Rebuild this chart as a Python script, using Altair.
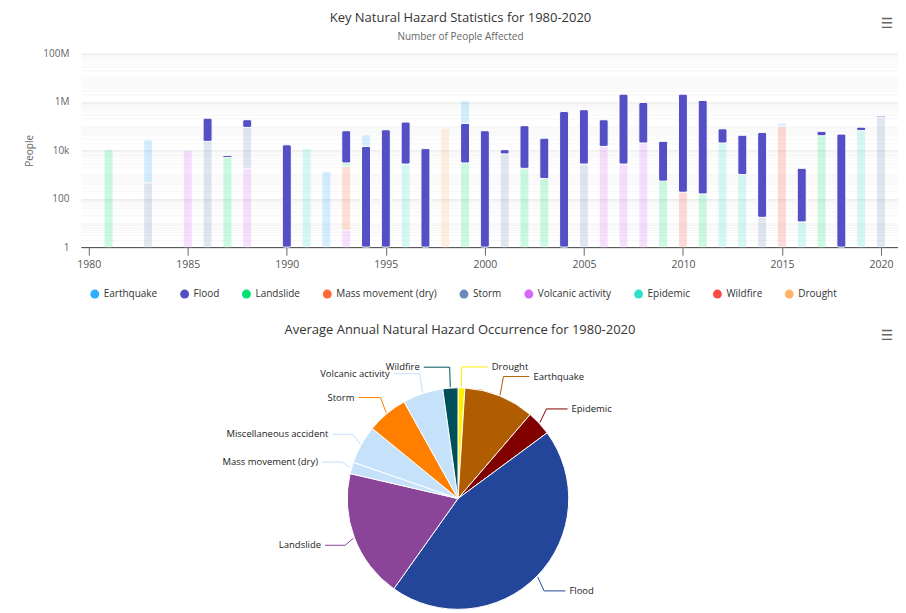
import altair as alt
import pandas as pd

hazards = ["Earthquake", "Flood", "Landslide", "Mass movement (dry)", "Storm",
           "Volcanic activity", "Epidemic", "Wildfire", "Drought"]
hazard_colors = ["#2caffe", "#544fc5", "#00e272", "#fe6a35", "#6b8abc",
                 "#d568fb", "#2ee0ca", "#fa4b42", "#feb56a"]

earthquake = {1983: 27500, 1992: 1360, 1994: 30000, 1999: 990000, 2015: 36000}
flood = {1986: 190000, 1987: 1100, 1988: 96000, 1990: 17000, 1993: 62000, 1994: 14500,
         1995: 71000, 1996: 145000, 1997: 11800, 1999: 127000, 2000: 65000, 2001: 3600,
         2002: 103000, 2003: 31000, 2004: 405000, 2005: 477000, 2006: 170000,
         2007: 2100000, 2008: 935000, 2009: 23000, 2010: 2100000, 2011: 1150000,
         2012: 58000, 2013: 41000, 2014: 55000, 2016: 1800, 2017: 21000, 2018: 47000,
         2019: 25000, 2020: 30000}
landslide = {1981: 11000, 1987: 5100, 1993: 800, 1999: 3000, 2002: 1800, 2003: 680,
             2009: 530, 2011: 158, 2017: 40000}
mass_movement = {1993: 2200}
storm = {1983: 450, 1986: 23500, 1988: 87000, 2001: 7100, 2005: 2700, 2014: 17, 2020: 230000}
volcanic = {1985: 10000, 1988: 1800, 1993: 5, 2006: 14500, 2007: 2700, 2008: 20000}
epidemic = {1991: 11800, 1996: 2700, 2012: 20000, 2013: 1000, 2016: 11, 2019: 66000}
wildfire = {2010: 185, 2015: 98000}
drought = {1998: 78000}

series = [earthquake, flood, landslide, mass_movement, storm, volcanic, epidemic, wildfire, drought]
x_ticks = [1980, 1985, 1990, 1995, 2000, 2005, 2010, 2015, 2020]

pie_names = ["Drought", "Earthquake", "Epidemic", "Flood", "Landslide",
             "Mass movement (dry)", "Miscellaneous accident", "Storm",
             "Volcanic activity", "Wildfire"]
pie_values = [1.0, 10.3, 3.6, 45.0, 18.8, 1.7, 5.6, 6.0, 5.9, 2.2]
pie_colors = ["#fff200", "#b05c00", "#800000", "#23469b", "#8a4599",
              "#c6e1fa", "#c6e1fa", "#ff8000", "#c6e1fa", "#00505a"]

rows = []
for rank, (name, s) in enumerate(zip(hazards, series)):
    for yr, v in s.items():
        rows.append({"year": yr, "hazard": name, "people": v, "rank": rank})
df = pd.DataFrame(rows)

pie_df = pd.DataFrame({"name": pie_names, "value": pie_values, "idx": list(range(len(pie_names)))})

FONT = "Open Sans"
W, H = 819, 194

y_vals = [k * 10 ** d for d in range(8) for k in range(1, 10)] + [10 ** 8]
major = "[1,100,10000,1000000,100000000]"

bars = alt.Chart(df).transform_stack(
    stack="people", groupby=["year"], sort=[alt.SortField("rank", order="descending")],
    as_=["s0", "s1"]
).transform_calculate(
    lo="max(datum.s0, 1)"
).mark_bar(size=9, cornerRadius=2, stroke="white", strokeWidth=1).encode(
    x=alt.X("year:Q", title=None,
            scale=alt.Scale(domain=[1979.6, 2020.86], nice=False, zero=False, padding=0),
            axis=alt.Axis(values=x_ticks, format="d", grid=False, labelFontSize=10.5,
                          labelColor="#555", tickColor="#666", domainColor="#444",
                          tickSize=8, labelPadding=4, labelFont=FONT)),
    y=alt.Y("s1:Q", title="People",
            scale=alt.Scale(type="log", domain=[1, 1e8], nice=False),
            axis=alt.Axis(values=y_vals, format="~s",
                          labelExpr=f"indexof({major}, datum.value) >= 0 ? datum.label : ''",
                          domain=False, ticks=False, tickSize=0, labelPadding=12,
                          labelFontSize=10, labelColor="#666", labelFont=FONT,
                          titleFontSize=10, titleColor="#666", titleFontWeight="normal",
                          titleFont=FONT, titlePadding=8,
                          gridColor={"condition": {"test": f"indexof({major}, datum.value) >= 0",
                                                   "value": "#e6e6e6"}, "value": "#f6f6f6"})),
    y2="lo:Q",
    color=alt.Color("hazard:N", scale=alt.Scale(domain=hazards, range=hazard_colors),
                    legend=alt.Legend(title=None, orient="none", legendX=9, legendY=236,
                                      direction="horizontal", symbolType="circle",
                                      symbolSize=80, symbolOpacity=1, symbolStrokeWidth=0,
                                      labelFontSize=10, labelColor="#333", labelFont=FONT,
                                      columnPadding=22)),
    opacity=alt.condition(alt.datum.hazard == "Flood", alt.value(1.0), alt.value(0.2)),
)

menu1 = alt.Chart(alt.Data(values=[{"t": "☰"}])).mark_text(
    fontSize=14, color="#666", font="DejaVu Sans"
).encode(text="t:N", x=alt.value(808), y=alt.value(-30))

top = alt.layer(bars, menu1).properties(
    width=W, height=H,
    title=alt.TitleParams(text="Key Natural Hazard Statistics for 1980-2020",
                          subtitle="Number of People Affected", fontSize=13,
                          subtitleFontSize=10, color="#333", subtitleColor="#666",
                          fontWeight="normal", font=FONT, subtitleFont=FONT,
                          anchor="middle", dx=-29, offset=-25, subtitlePadding=7),
)

PW, PH = 760, 255
CX, CY, R = 378, 154, 111

pie_base = alt.Chart(pie_df).transform_joinaggregate(
    total="sum(value)"
).transform_window(
    cum="sum(value)", sort=[alt.SortField("idx")], frame=[None, 0]
).transform_calculate(
    mid="(datum.cum - datum.value/2)/datum.total*2*PI"
).transform_calculate(
    side="sin(datum.mid) >= 0 ? 1 : -1"
).transform_calculate(
    x0=f"{CX} + {R + 1}*sin(datum.mid)"
).transform_calculate(
    y0=f"{CY} - {R + 1}*cos(datum.mid)"
).transform_calculate(
    ly=f"{CY} - 132*cos(datum.mid)"
).transform_calculate(
    xe=f"{CX} + {R + 10}*sin(datum.mid)"
).transform_calculate(
    lx=f"{CX} + datum.side*min(sqrt(max(145*145 - pow(datum.ly-{CY},2), 0)), abs(datum.xe-{CX}) + 30)"
).transform_calculate(
    xc="datum.lx - datum.side*4"
)

pie_color = alt.Color("name:N", scale=alt.Scale(domain=pie_names, range=pie_colors), legend=None)

arcs = pie_base.mark_arc(radius=R, stroke="white", strokeWidth=1).encode(
    theta=alt.Theta("value:Q", stack=True),
    order=alt.Order("idx:Q"),
    color=pie_color,
    x=alt.value(CX), y=alt.value(CY),
)
lead1 = pie_base.mark_rule(strokeWidth=1).encode(
    x=alt.X("x0:Q", scale=None), y=alt.Y("y0:Q", scale=None),
    x2="xe:Q", y2="ly:Q", color=pie_color)
lead2 = pie_base.mark_rule(strokeWidth=1).encode(
    x=alt.X("xe:Q", scale=None), y=alt.Y("ly:Q", scale=None),
    x2="xc:Q", y2="ly:Q", color=pie_color)
lab_r = pie_base.transform_filter("datum.side > 0").mark_text(
    align="left", baseline="middle", fontSize=9.5, color="#222", font=FONT
).encode(x=alt.X("lx:Q", scale=None), y=alt.Y("ly:Q", scale=None), text="name:N")
lab_l = pie_base.transform_filter("datum.side < 0").mark_text(
    align="right", baseline="middle", fontSize=9.5, color="#222", font=FONT
).encode(x=alt.X("lx:Q", scale=None), y=alt.Y("ly:Q", scale=None), text="name:N")

menu2 = alt.Chart(alt.Data(values=[{"t": "☰"}])).mark_text(
    fontSize=14, color="#666", font="DejaVu Sans"
).encode(text="t:N", x=alt.value(808), y=alt.value(-9))

pie_chart = alt.layer(lead1, lead2, arcs, lab_r, lab_l, menu2).properties(
    width=PW, height=PH,
    title=alt.TitleParams(text="Average Annual Natural Hazard Occurrence for 1980-2020",
                          fontSize=13, color="#333", fontWeight="normal", font=FONT,
                          anchor="middle", offset=-8),
)

chart = alt.vconcat(top, pie_chart, spacing=25).resolve_scale(
    color="independent"
).configure(
    padding={"left": 16, "top": 3, "right": 0, "bottom": 0},
    font=FONT,
).configure_view(stroke=None)

chart.save("out.html", embed_options={"renderer": "svg", "actions": False})
